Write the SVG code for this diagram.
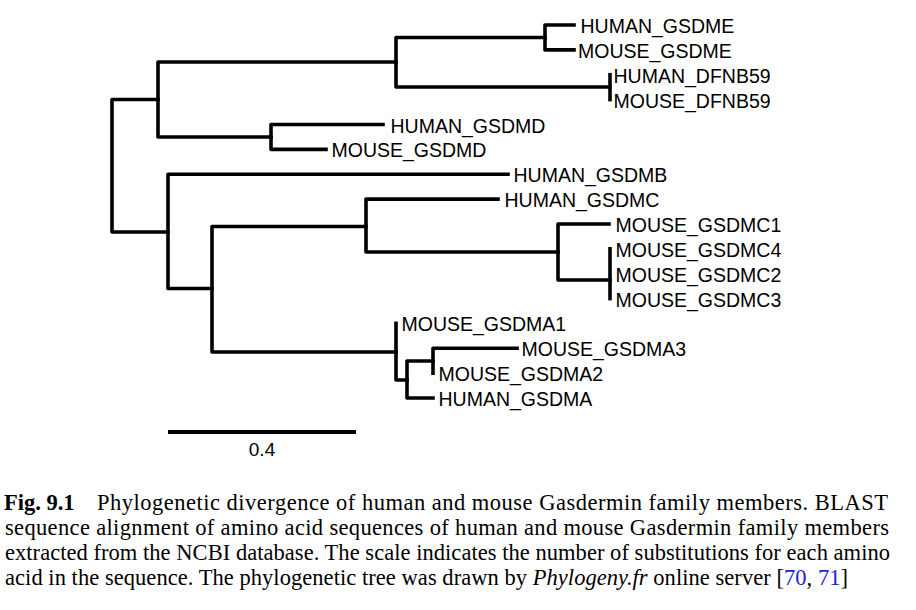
<svg xmlns="http://www.w3.org/2000/svg" width="916" height="610" viewBox="0 0 916 610">
<style>
.br{fill:none;stroke:#000;stroke-width:3.6;stroke-linejoin:round;stroke-linecap:square}
.lb{font-family:"Liberation Sans",Arial,sans-serif;font-size:19.5px;fill:#000}
.cap{font-family:"Liberation Serif","Times New Roman",serif;font-size:22.5px;fill:#000}
.ref{fill:#2020e0}
</style>
<rect width="916" height="610" fill="#fff"/>
<g id="connectors">
<path class="br" d="M574,25 H545 V49.9 H574"/>
<path class="br" d="M610,74.7 V99.6"/>
<path class="br" d="M545,37.5 H396 V87 H610"/>
<path class="br" d="M383,124.5 H271 V149.4 H326"/>
<path class="br" d="M396,62 H158 V137 H271"/>
<path class="br" d="M158,99.5 H112 V232 H168"/>
<path class="br" d="M508,174.2 H168 V288.5 H212"/>
<path class="br" d="M366,226.5 H212 V352 H396"/>
<path class="br" d="M498,199.1 H366 V252 H558"/>
<path class="br" d="M609,224 H558 V280 H610"/>
<path class="br" d="M610,248.8 V298.6"/>
<path class="br" d="M396,323.4 V380 H407"/>
<path class="br" d="M433,361 H407 V398 H433"/>
<path class="br" d="M517,348.3 H433 V373.2"/>
</g>
<g id="HUMAN_GSDME"><text class="lb" x="580.5" y="33">HUMAN_GSDME</text></g>
<g id="MOUSE_GSDME"><text class="lb" x="578" y="58">MOUSE_GSDME</text></g>
<g id="HUMAN_DFNB59"><text class="lb" x="613.5" y="82.7">HUMAN_DFNB59</text></g>
<g id="MOUSE_DFNB59"><text class="lb" x="613.5" y="107.6">MOUSE_DFNB59</text></g>
<g id="HUMAN_GSDMD"><text class="lb" x="390.5" y="132.5">HUMAN_GSDMD</text></g>
<g id="MOUSE_GSDMD"><text class="lb" x="331.5" y="157.4">MOUSE_GSDMD</text></g>
<g id="HUMAN_GSDMB"><text class="lb" x="513.5" y="182.2">HUMAN_GSDMB</text></g>
<g id="HUMAN_GSDMC"><text class="lb" x="504.5" y="207.1">HUMAN_GSDMC</text></g>
<g id="MOUSE_GSDMC1"><text class="lb" x="615.5" y="232">MOUSE_GSDMC1</text></g>
<g id="MOUSE_GSDMC4"><text class="lb" x="615.5" y="256.8">MOUSE_GSDMC4</text></g>
<g id="MOUSE_GSDMC2"><text class="lb" x="615.5" y="281.7">MOUSE_GSDMC2</text></g>
<g id="MOUSE_GSDMC3"><text class="lb" x="615.5" y="306.6">MOUSE_GSDMC3</text></g>
<g id="MOUSE_GSDMA1"><text class="lb" x="401.5" y="331.4">MOUSE_GSDMA1</text></g>
<g id="MOUSE_GSDMA3"><text class="lb" x="521.5" y="356.3">MOUSE_GSDMA3</text></g>
<g id="MOUSE_GSDMA2"><text class="lb" x="438.5" y="381.2">MOUSE_GSDMA2</text></g>
<g id="HUMAN_GSDMA"><text class="lb" x="438.5" y="406">HUMAN_GSDMA</text></g>
<g id="scale">
<line x1="168" y1="432" x2="356" y2="432" stroke="#000" stroke-width="4"/>
<text class="lb" x="262" y="456" text-anchor="middle" style="font-size:19px">0.4</text>
</g>
<g id="caption">
<text class="cap" x="4" y="510" font-weight="bold">Fig. 9.1</text>
<text class="cap" x="97" y="510" textLength="791" lengthAdjust="spacing">Phylogenetic divergence of human and mouse Gasdermin family members. BLAST</text>
<text class="cap" x="5" y="535" textLength="884" lengthAdjust="spacing">sequence alignment of amino acid sequences of human and mouse Gasdermin family members</text>
<text class="cap" x="5" y="560" textLength="885" lengthAdjust="spacing">extracted from the NCBI database. The scale indicates the number of substitutions for each amino</text>
<text class="cap" x="5" y="585" textLength="843" lengthAdjust="spacing">acid in the sequence. The phylogenetic tree was drawn by <tspan font-style="italic">Phylogeny.fr</tspan> online server [<tspan class="ref">70</tspan>, <tspan class="ref">71</tspan>]</text>
</g>
</svg>
